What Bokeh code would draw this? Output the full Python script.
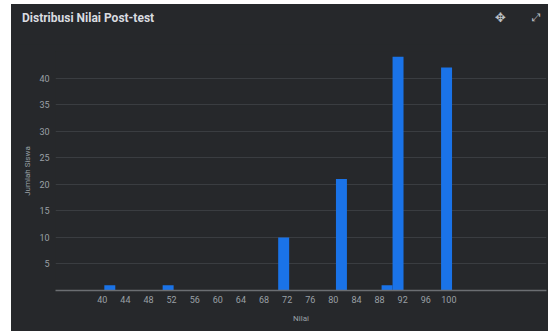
from bokeh.plotting import figure
from bokeh.models import ColumnDataSource, FixedTicker, Range1d, Div
from bokeh.layouts import column
from bokeh.embed import file_html
from bokeh.resources import INLINE

# Data
bin_centers = [41.3, 51.4, 71.4, 81.4, 89.3, 91.2, 99.6]
counts = [1, 1, 10, 21, 1, 44, 42]
bin_width = 1.9
x_ticks = [40, 44, 48, 52, 56, 60, 64, 68, 72, 76, 80, 84, 88, 92, 96, 100]
y_ticks = [5, 10, 15, 20, 25, 30, 35, 40]
y_grid = [5, 10, 15, 20, 25, 30, 35, 40, 45]
title_text = "Distribusi Nilai Post-test"

BG = "#26282b"
TXT = "#9aa0a6"

src = ColumnDataSource(dict(x=bin_centers, top=counts))

header_html = (
    '<div style="position:relative;width:537px;height:41px;background:%s;margin:0;padding:0;overflow:hidden;">'
    '<span style="position:absolute;left:11px;top:6px;line-height:16px;color:#dadce0;'
    'font-family:Roboto;font-weight:bold;font-size:12px;white-space:nowrap;">%s</span>'
    '<span style="position:absolute;left:484px;top:5px;line-height:18px;color:#bdc1c6;'
    'font-family:\'DejaVu Sans\';font-size:13px;">\u2725</span>'
    '<span style="position:absolute;left:521px;top:6px;line-height:16px;color:#bdc1c6;'
    'font-family:\'DejaVu Sans\';font-size:11px;">\u2922</span>'
    '</div>' % (BG, title_text)
)
header = Div(text=header_html, width=537, height=40, margin=0,
             styles={"background-color": BG, "overflow": "hidden", "line-height": "0"})

p = figure(width=537, height=287, output_backend="svg", toolbar_location=None,
           x_range=Range1d(31.9, 116.9), y_range=Range1d(0, 45),
           min_border_left=44, min_border_right=2, min_border_top=7, min_border_bottom=41)
p.margin = 0
p.background_fill_color = BG
p.border_fill_color = BG
p.outline_line_color = None

p.vbar(x="x", top="top", width=bin_width, bottom=0, source=src,
       fill_color="#1a73e8", line_color=None)

# axes
p.xaxis.ticker = FixedTicker(ticks=x_ticks)
p.yaxis.ticker = FixedTicker(ticks=y_ticks)
p.ygrid.ticker = FixedTicker(ticks=y_grid)
p.xgrid.grid_line_color = None
p.ygrid.grid_line_color = "#3a3d41"
p.ygrid.grid_line_width = 1

for ax in (p.xaxis, p.yaxis):
    ax.major_tick_line_color = None
    ax.minor_tick_line_color = None
    ax.major_tick_in = 0
    ax.major_tick_out = 0
    ax.major_label_text_color = TXT
    ax.major_label_text_font = "Roboto"
    ax.major_label_text_font_size = "9px"
    ax.axis_label_text_color = TXT
    ax.axis_label_text_font = "Roboto"
    ax.axis_label_text_font_size = "8px"
    ax.axis_label_text_font_style = "normal"

p.xaxis.axis_line_color = "#6b6e72"
p.xaxis.axis_line_width = 1.5
p.yaxis.axis_line_color = None
p.xaxis.axis_label = "Nilai"
p.yaxis.axis_label = "Jumlah Siswa"
p.xaxis.major_label_standoff = 5
p.yaxis.major_label_standoff = 6
p.xaxis.axis_label_standoff = 8
p.yaxis.axis_label_standoff = 4

layout = column(header, p, spacing=0, margin=(4, 0, 0, 11),
                styles={"background-color": BG})

open("out.html", "w").write(file_html(layout, INLINE))
